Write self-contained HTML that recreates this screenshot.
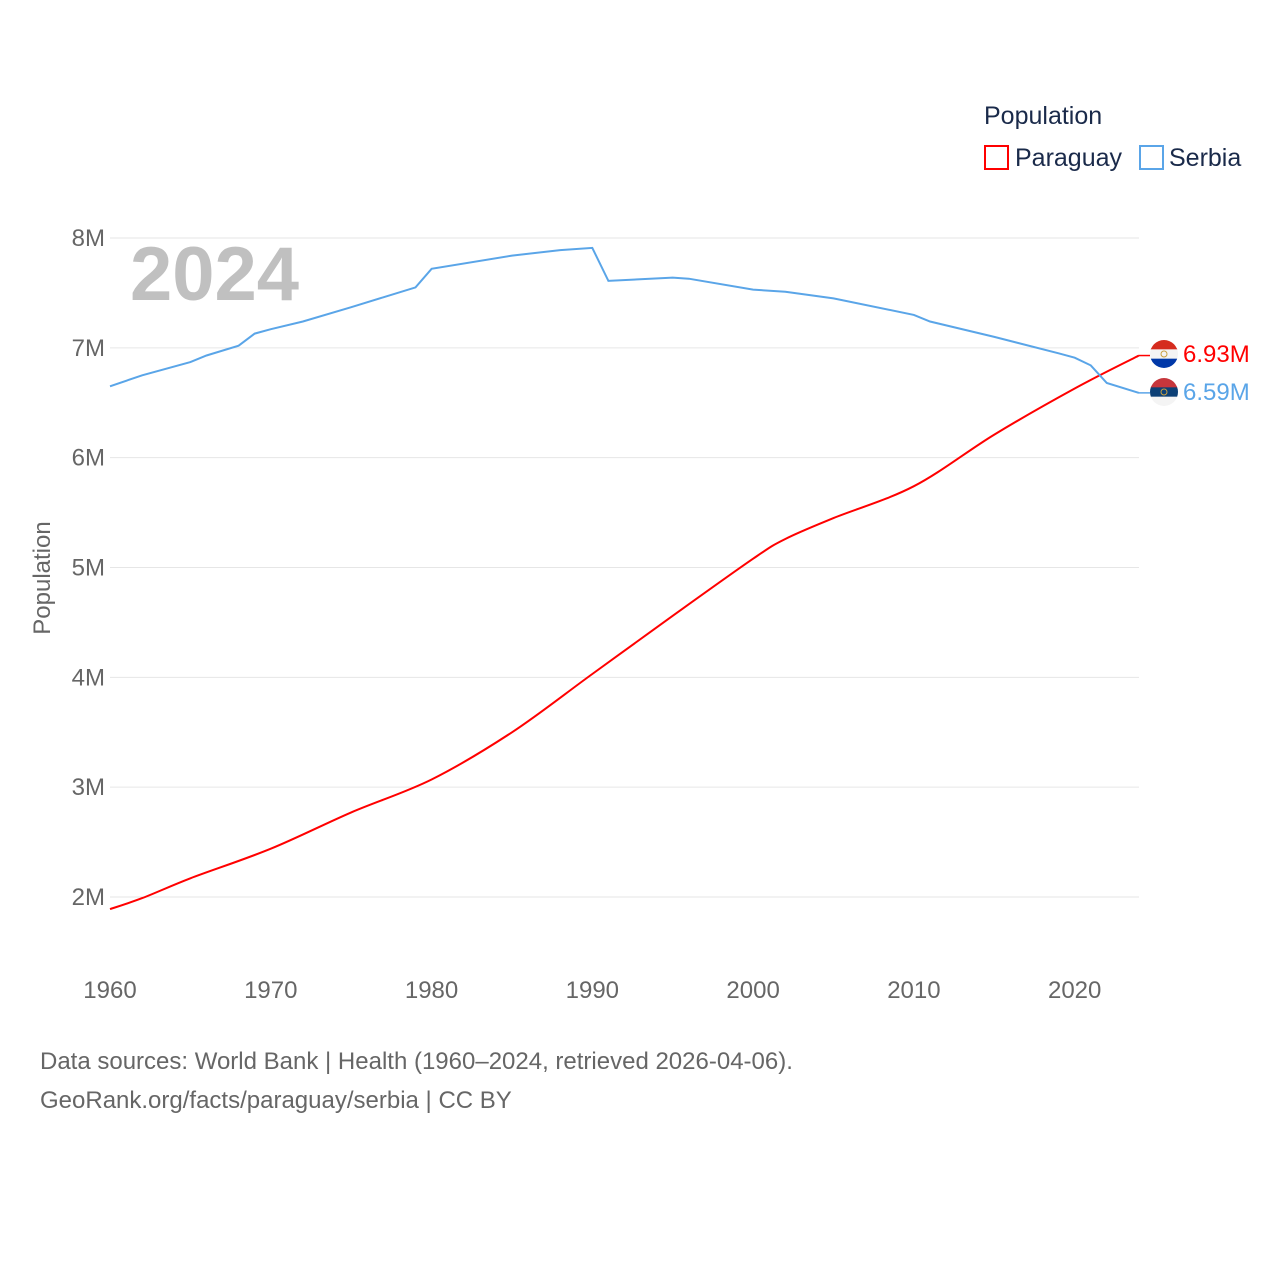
<!DOCTYPE html>
<html><head><meta charset="utf-8"><style>
body{margin:0;background:#fff;font-family:"Liberation Sans",sans-serif}
</style></head><body>
<svg width="1280" height="1280" viewBox="0 0 1280 1280" xmlns="http://www.w3.org/2000/svg">
<defs>
<clipPath id="c1"><circle cx="1164" cy="354" r="14"/></clipPath>
<clipPath id="c2"><circle cx="1164" cy="392" r="14"/></clipPath>
</defs>
<g id="grid"></g>
<g id="yt"></g>
<g id="xt"></g>
<text x="130" y="300" font-size="76" font-weight="bold" fill="#c0c0c0">2024</text>
<text transform="translate(50,578) rotate(-90)" text-anchor="middle" font-size="24" fill="#666">Population</text>
<g id="lines"></g>
<g>
<text x="984" y="124" font-size="25" fill="#1a2a4a">Population</text>
<g><rect x="985" y="146" width="23" height="23" fill="none" stroke="#ff0000" stroke-width="2"/><text x="1015" y="166" font-size="25" fill="#1a2a4a">Paraguay</text></g>
<g><rect x="1140" y="146" width="23" height="23" fill="none" stroke="#5aa5e8" stroke-width="2"/><text x="1169" y="166" font-size="25" fill="#1a2a4a">Serbia</text></g>
</g>
<text x="40" y="1069" font-size="24" fill="#666">Data sources: World Bank | Health (1960–2024, retrieved 2026-04-06).</text>
<text x="40" y="1108" font-size="24" fill="#666">GeoRank.org/facts/paraguay/serbia | CC BY</text>
</svg>
<script>
const yTicks=[2,3,4,5,6,7,8];
const xTicks=[1960,1970,1980,1990,2000,2010,2020];
const serbiaYears=[1960,1962,1965,1966,1968,1969,1970,1972,1975,1977,1979,1980,1985,1988,1990,1991,1995,1996,2000,2002,2005,2010,2011,2015,2019,2020,2021,2022,2024];
const serbiaValues=[6.65,6.75,6.87,6.93,7.02,7.13,7.17,7.24,7.37,7.46,7.55,7.72,7.84,7.89,7.91,7.61,7.64,7.63,7.53,7.51,7.45,7.30,7.24,7.10,6.95,6.91,6.84,6.68,6.59];
const paraYears=[1960,1962,1965,1970,1975,1980,1985,1990,1995,2000,2002,2005,2010,2015,2020,2024];
const paraValues=[1.89,1.99,2.17,2.44,2.77,3.07,3.50,4.03,4.56,5.08,5.26,5.45,5.74,6.21,6.63,6.93];
const ns="http://www.w3.org/2000/svg";
const X=y=>110+(y-1960)*(1139-110)/64;
const Y=v=>897-(v-2)*109.83;
function el(t,a,p){const e=document.createElementNS(ns,t);for(const k in a)e.setAttribute(k,a[k]);p.appendChild(e);return e;}
const grid=document.getElementById('grid'),yt=document.getElementById('yt'),xt=document.getElementById('xt'),lines=document.getElementById('lines');
yTicks.forEach(v=>{
 const l=el('line',{x1:110,x2:1139,y1:Y(v),y2:Y(v),stroke:'#e6e6e6','stroke-width':1},grid);
 
 
 const t=el('text',{x:105,y:Y(v)+8,'text-anchor':'end','font-size':24,fill:'#666'},yt);
 t.textContent=v+'M';
 
 
});
xTicks.forEach(y=>{
 const t=el('text',{x:X(y),y:998,'text-anchor':'middle','font-size':24,fill:'#666'},xt);
 t.textContent=y;
 
 
});
function smoothPath(pts){
 let d='M'+pts[0][0].toFixed(1)+','+pts[0][1].toFixed(1);
 for(let i=0;i<pts.length-1;i++){
  const p0=pts[Math.max(0,i-1)],p1=pts[i],p2=pts[i+1],p3=pts[Math.min(pts.length-1,i+2)];
  const c1=[p1[0]+(p2[0]-p0[0])/6,p1[1]+(p2[1]-p0[1])/6];
  const c2=[p2[0]-(p3[0]-p1[0])/6,p2[1]-(p3[1]-p1[1])/6];
  d+=' C'+c1.map(n=>n.toFixed(1)).join(',')+' '+c2.map(n=>n.toFixed(1)).join(',')+' '+p2[0].toFixed(1)+','+p2[1].toFixed(1);
 }
 return d;
}
function series(ys,vs,c,name,smooth,cy,clip,stripes){
 const pts=ys.map((y,i)=>[X(y),Y(vs[i])]);
 const d=smooth?smoothPath(pts):pts.map((p,i)=>(i?'L':'M')+p[0].toFixed(1)+','+p[1].toFixed(1)).join(' ');
 const p=el('path',{d:d,fill:'none',stroke:c,'stroke-width':2},lines);
 
 
 const lx=X(ys[ys.length-1]),ly=Y(vs[vs.length-1]);
 const g=el('g',{},lines);
 
 
 el('line',{x1:lx,x2:lx+11,y1:ly,y2:ly,stroke:c,'stroke-width':1.5},g);
 const fg=el('g',{'clip-path':'url(#'+clip+')'},g);
 stripes.forEach((col,i)=>el('rect',{x:lx+11,y:cy-14+i*28/3,width:28,height:28/3+0.5,fill:col},fg));
 el('circle',{cx:lx+25,cy:cy,r:3,fill:'none',stroke:'#c8a040','stroke-width':1},fg);
 const t=el('text',{x:lx+44,y:cy+8,'font-size':24,fill:c},g);
 t.textContent=vs[vs.length-1].toFixed(2)+'M';
 
 
}
series(paraYears,paraValues,'#ff0000','paraguay',true,354,'c1',['#d52b1e','#f4f4f4','#0038a8']);
series(serbiaYears,serbiaValues,'#5aa5e8','serbia',false,392,'c2',['#c6363c','#0c4076','#f4f4f4']);
</script>
</body></html>
